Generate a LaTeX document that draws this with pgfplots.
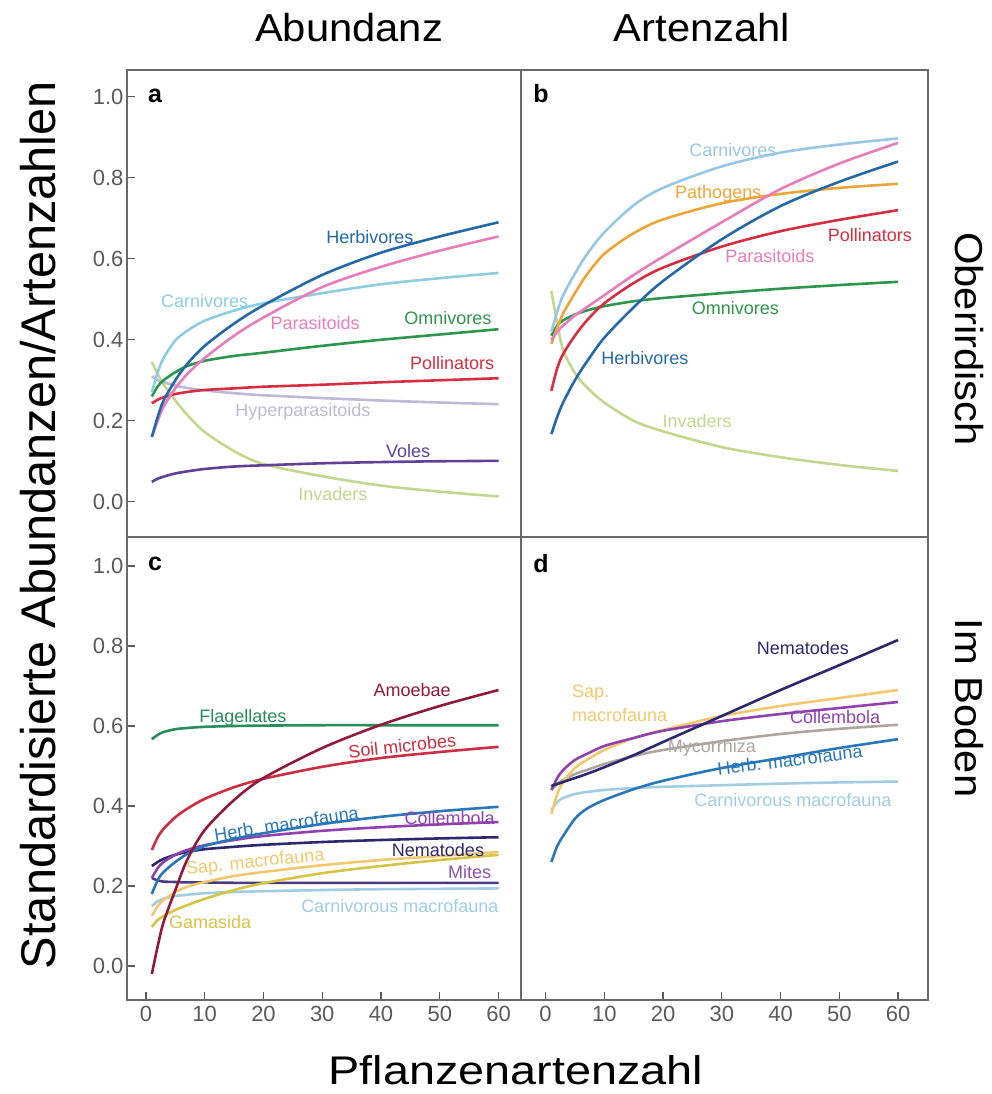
\documentclass[border=0pt]{standalone}
\usepackage{fontspec}
\setmainfont{Liberation Sans}
\usepackage{pgfplots}
\usepackage{pgfplotstable}
\pgfplotsset{compat=1.18}

\definecolor{cHerb}{RGB}{35,105,170}
\definecolor{cPara}{RGB}{232,125,185}
\definecolor{cCarnA}{RGB}{140,205,225}
\definecolor{cOmni}{RGB}{45,150,75}
\definecolor{cPoll}{RGB}{215,45,65}
\definecolor{cHyper}{RGB}{190,185,215}
\definecolor{cVoles}{RGB}{95,65,150}
\definecolor{cInv}{RGB}{195,215,140}
\definecolor{cPath}{RGB}{238,165,55}
\definecolor{cCarnB}{RGB}{150,200,230}
\definecolor{cAmoe}{RGB}{145,25,60}
\definecolor{cSoil}{RGB}{205,45,65}
\definecolor{cFlag}{RGB}{40,140,95}
\definecolor{cHerbM}{RGB}{40,120,185}
\definecolor{cColl}{RGB}{145,65,175}
\definecolor{cNema}{RGB}{45,40,110}
\definecolor{cSap}{RGB}{242,200,110}
\definecolor{cGama}{RGB}{215,195,70}
\definecolor{cMites}{RGB}{75,60,130}
\definecolor{cMitesL}{RGB}{140,80,170}
\definecolor{cCarnM}{RGB}{160,205,225}
\definecolor{cMyco}{RGB}{175,165,160}
\definecolor{frameC}{RGB}{105,105,105}
\definecolor{tickC}{RGB}{90,90,90}

\pgfplotstableread{
x herb para carn omni poll hyper voles inv
1  0.160 0.160 0.270 0.260 0.243 0.310 0.049 0.345
2  0.210 0.200 0.320 0.285 0.252 0.300 0.057 0.315
3  0.250 0.235 0.355 0.300 0.258 0.295 0.062 0.290
5  0.300 0.280 0.398 0.320 0.266 0.287 0.070 0.250
7  0.340 0.315 0.422 0.335 0.271 0.281 0.075 0.215
10 0.385 0.355 0.447 0.348 0.276 0.275 0.081 0.172
15 0.440 0.410 0.472 0.360 0.280 0.268 0.087 0.125
20 0.485 0.455 0.490 0.368 0.284 0.263 0.090 0.093
30 0.560 0.530 0.515 0.385 0.289 0.256 0.095 0.063
40 0.615 0.580 0.537 0.400 0.295 0.250 0.098 0.040
50 0.655 0.620 0.552 0.413 0.300 0.245 0.100 0.025
60 0.690 0.655 0.565 0.426 0.305 0.241 0.101 0.013
}\tabA

\pgfplotstableread{
x carn path para herb poll omni inv
1  0.420 0.390 0.400 0.167 0.274 0.410 0.520
2  0.470 0.430 0.420 0.210 0.330 0.435 0.440
3  0.510 0.465 0.435 0.245 0.365 0.448 0.375
5  0.563 0.515 0.460 0.300 0.410 0.462 0.318
7  0.610 0.560 0.480 0.345 0.447 0.472 0.283
10 0.665 0.612 0.510 0.405 0.490 0.483 0.245
15 0.732 0.663 0.560 0.480 0.540 0.495 0.200
20 0.775 0.697 0.605 0.545 0.578 0.503 0.174
30 0.828 0.737 0.690 0.648 0.630 0.515 0.135
40 0.862 0.760 0.772 0.730 0.668 0.526 0.110
50 0.882 0.775 0.835 0.790 0.696 0.535 0.091
60 0.897 0.785 0.886 0.840 0.720 0.543 0.076
}\tabB

\pgfplotstableread{
x amoe soil flag herbm coll nema sap gama mites carnm
1  -0.020 0.290 0.567 0.180 0.220 0.250 0.125 0.098 0.220 0.150
2  0.050 0.322 0.578 0.215 0.245 0.260 0.150 0.115 0.214 0.162
3  0.110 0.343 0.585 0.235 0.260 0.268 0.165 0.125 0.211 0.168
5  0.190 0.372 0.592 0.260 0.278 0.278 0.185 0.140 0.210 0.175
7  0.265 0.393 0.595 0.280 0.290 0.285 0.198 0.152 0.209 0.178
10 0.340 0.418 0.598 0.300 0.302 0.292 0.210 0.168 0.209 0.182
15 0.415 0.447 0.600 0.318 0.315 0.298 0.225 0.190 0.208 0.185
20 0.470 0.468 0.601 0.332 0.325 0.303 0.235 0.207 0.208 0.187
30 0.545 0.498 0.602 0.355 0.338 0.310 0.252 0.232 0.208 0.190
40 0.603 0.520 0.602 0.373 0.347 0.315 0.265 0.250 0.208 0.192
50 0.650 0.535 0.602 0.387 0.354 0.319 0.275 0.265 0.208 0.193
60 0.690 0.548 0.602 0.398 0.360 0.322 0.285 0.278 0.208 0.194
}\tabC

\pgfplotstableread{
x nema sap coll myco herbm carnm
1  0.450 0.380 0.440 0.440 0.260 0.390
2  0.455 0.430 0.470 0.455 0.300 0.410
3  0.460 0.460 0.490 0.465 0.325 0.420
5  0.470 0.495 0.515 0.480 0.368 0.430
7  0.480 0.515 0.530 0.490 0.393 0.435
10 0.497 0.540 0.550 0.505 0.415 0.440
15 0.527 0.570 0.570 0.525 0.442 0.445
20 0.560 0.590 0.588 0.540 0.463 0.448
30 0.625 0.625 0.612 0.562 0.495 0.452
40 0.690 0.650 0.630 0.580 0.520 0.456
50 0.752 0.670 0.645 0.593 0.545 0.459
60 0.815 0.690 0.660 0.603 0.567 0.461
}\tabD

\pgfplotsset{
  panel/.style={
    scale only axis,
    axis line style={draw=frameC, line width=1.6pt},
    tick style={draw=tickC, line width=1.1pt},
    major tick length=8pt,
    tick align=inside,
    tick label style={font=\fontsize{22}{22}\selectfont, text=tickC},
    xticklabel style={yshift=-3pt},
    /pgf/number format/assume math mode=true,
    yticklabel style={/pgf/number format/fixed, /pgf/number format/fixed zerofill, /pgf/number format/precision=1},
    every axis plot/.append style={smooth, line width=2.6pt, no marks},
  },
  rowT/.style={ymin=-0.087, ymax=1.066, height=467pt},
  rowB/.style={ymin=-0.085, ymax=1.0725, height=463pt},
  colL/.style={xmin=-3.23, xmax=63.83, width=394pt},
  colR/.style={xmin=-4.17, xmax=65.1, width=407pt},
}
\tikzset{lab/.style={font=\fontsize{18}{18}\selectfont, inner sep=0pt}}

\begin{document}
\begin{tikzpicture}
\useasboundingbox (0pt,0pt) rectangle (992pt,-1094pt);

% Panel a
\begin{axis}[panel, rowT, colL, at={(127pt,-70pt)}, anchor=north west,
  xtick=\empty, ytick={0,0.2,0.4,0.6,0.8,1.0}, ytick pos=left]
  \addplot[cInv] table[x=x,y=inv]{\tabA};
  \addplot[cHyper] table[x=x,y=hyper]{\tabA};
  \addplot[cVoles] table[x=x,y=voles]{\tabA};
  \addplot[cPoll] table[x=x,y=poll]{\tabA};
  \addplot[cOmni] table[x=x,y=omni]{\tabA};
  \addplot[cCarnA] table[x=x,y=carn]{\tabA};
  \addplot[cPara] table[x=x,y=para]{\tabA};
  \addplot[cHerb] table[x=x,y=herb]{\tabA};
  \node[lab, text=cHerb] at (axis cs:38.1,0.653) {Herbivores};
  \node[lab, text=cCarnA] at (axis cs:10.0,0.495) {Carnivores};
  \node[lab, text=cPara] at (axis cs:28.8,0.441) {Parasitoids};
  \node[lab, text=cOmni] at (axis cs:51.4,0.453) {Omnivores};
  \node[lab, text=cPoll] at (axis cs:52.1,0.342) {Pollinators};
  \node[lab, text=cHyper] at (axis cs:26.7,0.222) {Hyperparasitoids};
  \node[lab, text=cVoles] at (axis cs:44.6,0.125) {Voles};
  \node[lab, text=cInv] at (axis cs:31.8,0.019) {Invaders};
\end{axis}

% Panel b
\begin{axis}[panel, rowT, colR, at={(521pt,-70pt)}, anchor=north west,
  xtick=\empty, ytick=\empty]
  \addplot[cInv] table[x=x,y=inv]{\tabB};
  \addplot[cOmni] table[x=x,y=omni]{\tabB};
  \addplot[cCarnB] table[x=x,y=carn]{\tabB};
  \addplot[cPath] table[x=x,y=path]{\tabB};
  \addplot[cPara] table[x=x,y=para]{\tabB};
  \addplot[cPoll] table[x=x,y=poll]{\tabB};
  \addplot[cHerb] table[x=x,y=herb]{\tabB};
  \node[lab, text=cCarnB] at (axis cs:31.9,0.868) {Carnivores};
  \node[lab, text=cPath] at (axis cs:29.4,0.760) {Pathogens};
  \node[lab, text=cPoll] at (axis cs:55.2,0.658) {Pollinators};
  \node[lab, text=cPara] at (axis cs:38.2,0.607) {Parasitoids};
  \node[lab, text=cOmni] at (axis cs:32.3,0.478) {Omnivores};
  \node[lab, text=cHerb] at (axis cs:16.9,0.355) {Herbivores};
  \node[lab, text=cInv] at (axis cs:25.8,0.200) {Invaders};
\end{axis}

% Panel c
\begin{axis}[panel, rowB, colL, at={(127pt,-537pt)}, anchor=north west,
  xtick={0,10,20,30,40,50,60}, xtick pos=bottom,
  ytick={0,0.2,0.4,0.6,0.8,1.0}, ytick pos=left]
  \addplot[cCarnM] table[x=x,y=carnm]{\tabC};
  \addplot[cMites] table[x=x,y=mites]{\tabC};
  \addplot[cGama] table[x=x,y=gama]{\tabC};
  \addplot[cSap] table[x=x,y=sap]{\tabC};
  \addplot[cNema] table[x=x,y=nema]{\tabC};
  \addplot[cColl] table[x=x,y=coll]{\tabC};
  \addplot[cHerbM] table[x=x,y=herbm]{\tabC};
  \addplot[cFlag] table[x=x,y=flag]{\tabC};
  \addplot[cSoil] table[x=x,y=soil]{\tabC};
  \addplot[cAmoe] table[x=x,y=amoe]{\tabC};
  \node[lab, text=cAmoe] at (axis cs:45.3,0.690) {Amoebae};
  \node[lab, text=cFlag] at (axis cs:16.5,0.620) {Flagellates};
  \node[lab, text=cSoil, rotate=6] at (axis cs:43.6,0.550) {Soil microbes};
  \node[lab, text=cHerbM, rotate=9] at (axis cs:23.9,0.356) {Herb. macrofauna};
  \node[lab, text=cColl] at (axis cs:51.7,0.370) {Collembola};
  \node[lab, text=cNema] at (axis cs:49.7,0.290) {Nematodes};
  \node[lab, text=cSap, rotate=6] at (axis cs:18.6,0.258) {Sap. macrofauna};
  \node[lab, text=cMitesL] at (axis cs:55.1,0.235) {Mites};
  \node[lab, text=cCarnM] at (axis cs:43.2,0.150) {Carnivorous macrofauna};
  \node[lab, text=cGama] at (axis cs:10.9,0.110) {Gamasida};
\end{axis}

% Panel d
\begin{axis}[panel, rowB, colR, at={(521pt,-537pt)}, anchor=north west,
  xtick={0,10,20,30,40,50,60}, xtick pos=bottom, ytick=\empty]
  \addplot[cCarnM] table[x=x,y=carnm]{\tabD};
  \addplot[cMyco] table[x=x,y=myco]{\tabD};
  \addplot[cHerbM] table[x=x,y=herbm]{\tabD};
  \addplot[cSap] table[x=x,y=sap]{\tabD};
  \addplot[cColl] table[x=x,y=coll]{\tabD};
  \addplot[cNema] table[x=x,y=nema]{\tabD};
  \node[lab, text=cNema] at (axis cs:43.8,0.795) {Nematodes};
  \node[lab, text=cSap, anchor=west] at (axis cs:4.5,0.683) {Sap.};
  \node[lab, text=cSap, anchor=west] at (axis cs:4.5,0.628) {macrofauna};
  \node[lab, text=cColl] at (axis cs:49.3,0.623) {Collembola};
  \node[lab, text=cMyco] at (axis cs:28.3,0.545) {Mycorrhiza};
  \node[lab, text=cHerbM, rotate=7] at (axis cs:41.6,0.515) {Herb. macrofauna};
  \node[lab, text=cCarnM] at (axis cs:42.1,0.415) {Carnivorous macrofauna};
\end{axis}

% panel letters
\node[font=\fontsize{25}{25}\selectfont\bfseries] at (155pt,-96pt) {a};
\node[font=\fontsize{25}{25}\selectfont\bfseries] at (541pt,-94pt) {b};
\node[font=\fontsize{25}{25}\selectfont\bfseries] at (155pt,-564pt) {c};
\node[font=\fontsize{25}{25}\selectfont\bfseries] at (541pt,-564pt) {d};

% outer titles
\node[anchor=base, inner sep=0pt, font=\fontsize{39}{39}\selectfont] at (349pt,-41.5pt) {\scalebox{1.07}[1]{Abundanz}};
\node[anchor=base, inner sep=0pt, font=\fontsize{39}{39}\selectfont] at (702pt,-41.5pt) {\scalebox{1.07}[1]{Artenzahl}};
\node[rotate=-90, inner sep=0pt, font=\fontsize{39}{39}\selectfont] at (969pt,-339pt) {\scalebox{1.07}[1]{Oberirdisch}};
\node[rotate=-90, inner sep=0pt, font=\fontsize{39}{39}\selectfont] at (969pt,-708pt) {\scalebox{1.07}[1]{Im Boden}};
\node[rotate=90, inner sep=0pt, font=\fontsize{48.7}{48.7}\selectfont] at (38pt,-525pt) {Standardisierte Abundanzen/Artenzahlen};
\node[anchor=base, inner sep=0pt, font=\fontsize{40}{40}\selectfont] at (516pt,-1084pt) {\scalebox{1.17}[1]{Pflanzenartenzahl}};
\end{tikzpicture}
\end{document}
